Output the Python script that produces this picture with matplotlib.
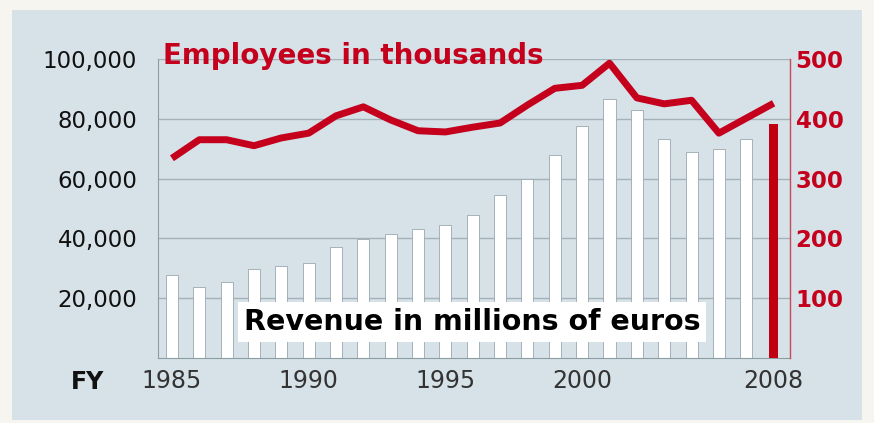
import matplotlib
matplotlib.use("Agg")
import matplotlib.pyplot as plt
from matplotlib.patches import Rectangle
from matplotlib.ticker import FuncFormatter

# Data
years = list(range(1985, 2006)) + [2007, 2008]
revenue = [27800, 23600, 25500, 29700, 30900, 31700, 37000, 39700, 41500, 43000,
           44500, 47800, 54500, 59800, 67900, 77600, 86500, 82900, 73200, 69000,
           69800, 73200, 78200]  # millions of euros
employees = [334, 365, 365, 355, 368, 376, 405, 420, 398, 380, 378, 386, 393,
             423, 451, 456, 493, 435, 425, 431, 376, 401, 426]  # thousands
label_years = [1985, 1990, 1995, 2000, 2008]
left_ticks = [20000, 40000, 60000, 80000, 100000]
right_ticks = [100, 200, 300, 400, 500]

RED = '#c4001c'
BG = '#d6e2e8'
GRID = '#a3b1b9'

plt.rcParams['font.family'] = ['DejaVu Sans']

fig = plt.figure(figsize=(8.74, 4.23), dpi=100)
fig.patch.set_facecolor('#f7f5f0')
fig.patches.append(Rectangle((12 / 874, 3 / 423), 850 / 874, 410 / 423,
                             transform=fig.transFigure, facecolor=BG,
                             edgecolor='none', zorder=-10))

ax = fig.add_axes([158 / 874, 65 / 423, 632 / 874, 299 / 423])
ax.set_facecolor('none')

pos = list(range(len(years)))
last = len(years) - 1

# revenue bars (white), last year highlighted in red
ax.bar(pos[:last], revenue[:last], width=0.44, color='white',
       edgecolor='#9aa8b0', linewidth=0.6, zorder=2)
ax.bar(pos[last], revenue[last], width=0.32, color='#c00010', edgecolor='none', zorder=3)

ax.set_xlim(-0.51, 22.6)
ax.set_ylim(0, 100000)
ax.set_yticks(left_ticks)
ax.yaxis.set_major_formatter(FuncFormatter(lambda v, p: f'{int(v):,}'))
ax.grid(axis='y', color=GRID, linewidth=1, zorder=1)
ax.set_axisbelow(True)
ax.tick_params(axis='y', length=0, pad=15, labelsize=16.5, labelcolor='#111111')

ax.set_xticks([years.index(y) for y in label_years])
ax.set_xticklabels([str(y) for y in label_years])
ax.tick_params(axis='x', length=0, pad=8, labelsize=17, labelcolor='#333333')

ax.spines['top'].set_visible(False)
ax.spines['right'].set_visible(False)
ax.spines['left'].set_color('#8d9ba3')
ax.spines['bottom'].set_color('#8d9ba3')

# employees on a second axis
ax2 = ax.twinx()
ax2.set_ylim(0, 500)
ax2.plot(pos, employees, color=RED, linewidth=5, solid_joinstyle='round',
         solid_capstyle='butt', zorder=4)
ax2.set_yticks(right_ticks)
ax2.tick_params(axis='y', length=0, pad=4, labelsize=16.5, labelcolor=RED)
for lbl in ax2.get_yticklabels():
    lbl.set_fontweight('bold')
for s in ['top', 'left', 'bottom']:
    ax2.spines[s].set_visible(False)
ax2.spines['right'].set_color('#c8475a')
ax2.spines['right'].set_linewidth(1)

ax.text(0.008, 1.01, 'Employees in thousands', transform=ax.transAxes,
        fontsize=20, fontweight='bold', color=RED, va='center', ha='left', zorder=6)
ax.text(0.497, 0.12, 'Revenue in millions of euros', transform=ax.transAxes,
        fontsize=20.5, fontweight='bold', color='black', va='center', ha='center',
        zorder=6, bbox=dict(facecolor='white', edgecolor='none', pad=4))
fig.text(104 / 874, 1 - 382 / 423, 'FY', fontsize=17, fontweight='bold',
         color='#111111', ha='right', va='center')

fig.savefig('out.png', dpi=100, facecolor=fig.get_facecolor())
